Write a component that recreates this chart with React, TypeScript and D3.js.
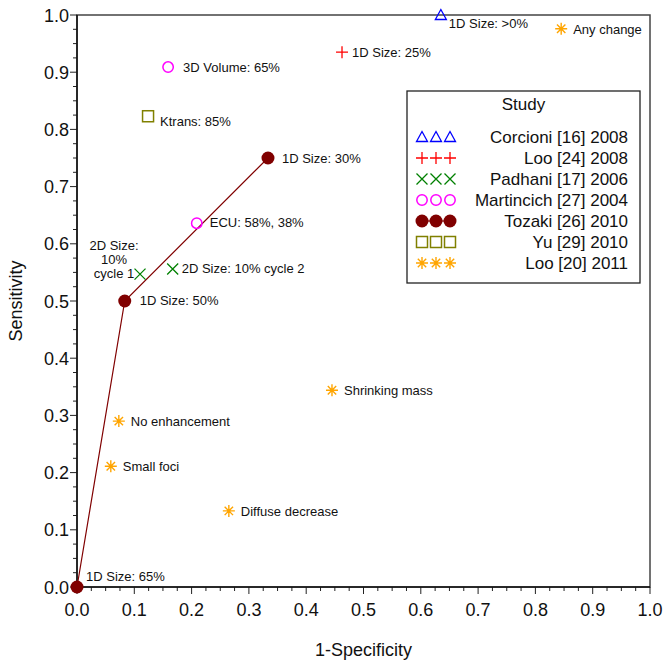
import * as d3 from "d3"
import React from "react"

// studies (legend order)
const studyNames = ["Corcioni [16] 2008", "Loo [24] 2008", "Padhani [17] 2006", "Martincich [27] 2004", "Tozaki [26] 2010", "Yu [29] 2010", "Loo [20] 2011"]
const studyColors = ["#0000FF", "#FF0000", "#008000", "#FF00FF", "#800000", "#808000", "#FFA500"]
const studyShapes = ["triangle", "plus", "cross", "circle", "dot", "square", "star"]

// [1-specificity, sensitivity, label] for each study
const corcioni = [[0.635, 1.0, "1D Size: >0%"]]
const loo2008 = [[0.4625, 0.935, "1D Size: 25%"]]
const padhani = [[0.11, 0.547, "2D Size:\n10%\ncycle 1"], [0.167, 0.556, "2D Size: 10% cycle 2"]]
const martincich = [[0.159, 0.909, "3D Volume: 65%"], [0.209, 0.636, "ECU: 58%, 38%"]]
const tozaki = [[0, 0, "1D Size: 65%"], [0.0833, 0.5, "1D Size: 50%"], [0.3333, 0.75, "1D Size: 30%"]]
const yu = [[0.124, 0.823, "Ktrans: 85%"]]
const loo2011 = [[0.845, 0.976, "Any change"], [0.445, 0.344, "Shrinking mass"], [0.073, 0.29, "No enhancement"], [0.059, 0.211, "Small foci"], [0.265, 0.133, "Diffuse decrease"]]
const studyData = [corcioni, loo2008, padhani, martincich, tozaki, yu, loo2011]

const ticks = [0, 0.1, 0.2, 0.3, 0.4, 0.5, 0.6, 0.7, 0.8, 0.9, 1.0]

// label placement (px offset from marker, anchor)
const labelPos = {
  "1D Size: >0%": [8, 13, "start"],
  "1D Size: 25%": [10, 5, "start"],
  "2D Size:\n10%\ncycle 1": [-26, -24, "middle"],
  "2D Size: 10% cycle 2": [9, 4, "start"],
  "3D Volume: 65%": [15, 5, "start"],
  "ECU: 58%, 38%": [13, 4, "start"],
  "1D Size: 65%": [9, -6, "start"],
  "1D Size: 50%": [15, 4, "start"],
  "1D Size: 30%": [14, 5, "start"],
  "Ktrans: 85%": [12, 10, "start"],
}

const font = "Arial, 'Liberation Sans', Helvetica, sans-serif"

const Marker = ({ shape, color, x, y }) => {
  const t = `translate(${x},${y})`
  if (shape === "triangle") return <path transform={t} d="M0,-5.5L5.5,4.5L-5.5,4.5Z" fill="none" stroke={color} strokeWidth={1.3} />
  if (shape === "plus") return <path transform={t} d="M-6,0H6M0,-6V6" stroke={color} strokeWidth={1.3} />
  if (shape === "cross") return <path transform={t} d="M-5.5,-5.5L5.5,5.5M-5.5,5.5L5.5,-5.5" stroke={color} strokeWidth={1.3} />
  if (shape === "circle") return <circle cx={x} cy={y} r={5.2} fill="none" stroke={color} strokeWidth={1.5} />
  if (shape === "dot") return <circle cx={x} cy={y} r={6.5} fill={color} />
  if (shape === "square") return <rect x={x - 5.5} y={y - 5.5} width={11} height={11} fill="none" stroke={color} strokeWidth={1.5} />
  return <path transform={t} d="M-6,0H6M0,-6V6M-4.2,-4.2L4.2,4.2M-4.2,4.2L4.2,-4.2" stroke={color} strokeWidth={1.4} />
}

export default function App() {
  const width = 663
  const height = 660
  const left = 77, right = 650, top = 15, bottom = 587
  const x = d3.scaleLinear().domain([0, 1]).range([left, right])
  const y = d3.scaleLinear().domain([0, 1]).range([bottom, top])
  const minor = d3.range(0, 1.0001, 0.025)
  const line = d3.line().x(d => x(d[0])).y(d => y(d[1]))(tozaki.map(d => [d[0], d[1]]))

  const lgX = 407, lgY = 91, lgW = 233, lgH = 192

  return (
    <svg width={width} height={height} style={{ position: "absolute", left: 0, top: 0 }} fontFamily={font}>
      <rect x={left} y={top} width={right - left} height={bottom - top} fill="none" stroke="#444" strokeWidth={1.5} />
      {minor.map((v, i) => {
        const major = i % 4 === 0
        return (
          <g key={i} stroke="#222" strokeWidth={1}>
            <line x1={x(v)} x2={x(v)} y1={bottom} y2={bottom + (major ? 7 : 4)} />
            <line x1={left} x2={left - (major ? 7 : 4)} y1={y(v)} y2={y(v)} />
          </g>
        )
      })}
      <line x1={left} x2={right} y1={bottom} y2={bottom} stroke="#111" strokeWidth={1.5} />
      <line x1={left} x2={left} y1={top} y2={bottom} stroke="#111" strokeWidth={1.5} />
      {ticks.map(v => (
        <g key={v} fontSize={18} fill="#111">
          <text x={x(v)} y={bottom + 29} textAnchor="middle">{v.toFixed(1)}</text>
          <text x={left - 8} y={y(v) + 6.5} textAnchor="end">{v.toFixed(1)}</text>
        </g>
      ))}
      <text x={(left + right) / 2} y={656} textAnchor="middle" fontSize={18} fill="#111">1-Specificity</text>
      <text transform={`translate(22,${(top + bottom) / 2}) rotate(-90)`} textAnchor="middle" fontSize={18} fill="#111">Sensitivity</text>

      <path d={line} fill="none" stroke="#800000" strokeWidth={1.2} />
      {studyData.map((pts, s) => pts.map((p, i) => {
        const px = x(p[0]), py = y(p[1])
        const pos = labelPos[p[2]] || [12, 5, "start"]
        const lines = p[2].split("\n")
        return (
          <g key={s + "-" + i}>
            <Marker shape={studyShapes[s]} color={studyColors[s]} x={px} y={py} />
            <text x={px + pos[0]} y={py + pos[1]} textAnchor={pos[2]} fontSize={13} fill="#111">
              {lines.map((l, j) => <tspan key={j} x={px + pos[0]} dy={j ? 14 : 0}>{l}</tspan>)}
            </text>
          </g>
        )
      }))}

      <rect x={lgX} y={lgY} width={lgW} height={lgH} fill="white" stroke="#222" strokeWidth={1.3} />
      <text x={lgX + lgW / 2} y={lgY + 19} textAnchor="middle" fontSize={17} fill="#111">Study</text>
      {studyNames.map((name, i) => {
        const ry = lgY + 46 + i * 21
        return (
          <g key={name}>
            {studyShapes[i] === "dot" && <line x1={lgX + 15} x2={lgX + 43} y1={ry} y2={ry} stroke={studyColors[i]} strokeWidth={1.2} />}
            {[0, 1, 2].map(k => <Marker key={k} shape={studyShapes[i]} color={studyColors[i]} x={lgX + 15 + k * 14} y={ry} />)}
            <text x={lgX + lgW - 12} y={ry + 6} textAnchor="end" fontSize={17} fill="#111">{name}</text>
          </g>
        )
      })}
    </svg>
  )
}
